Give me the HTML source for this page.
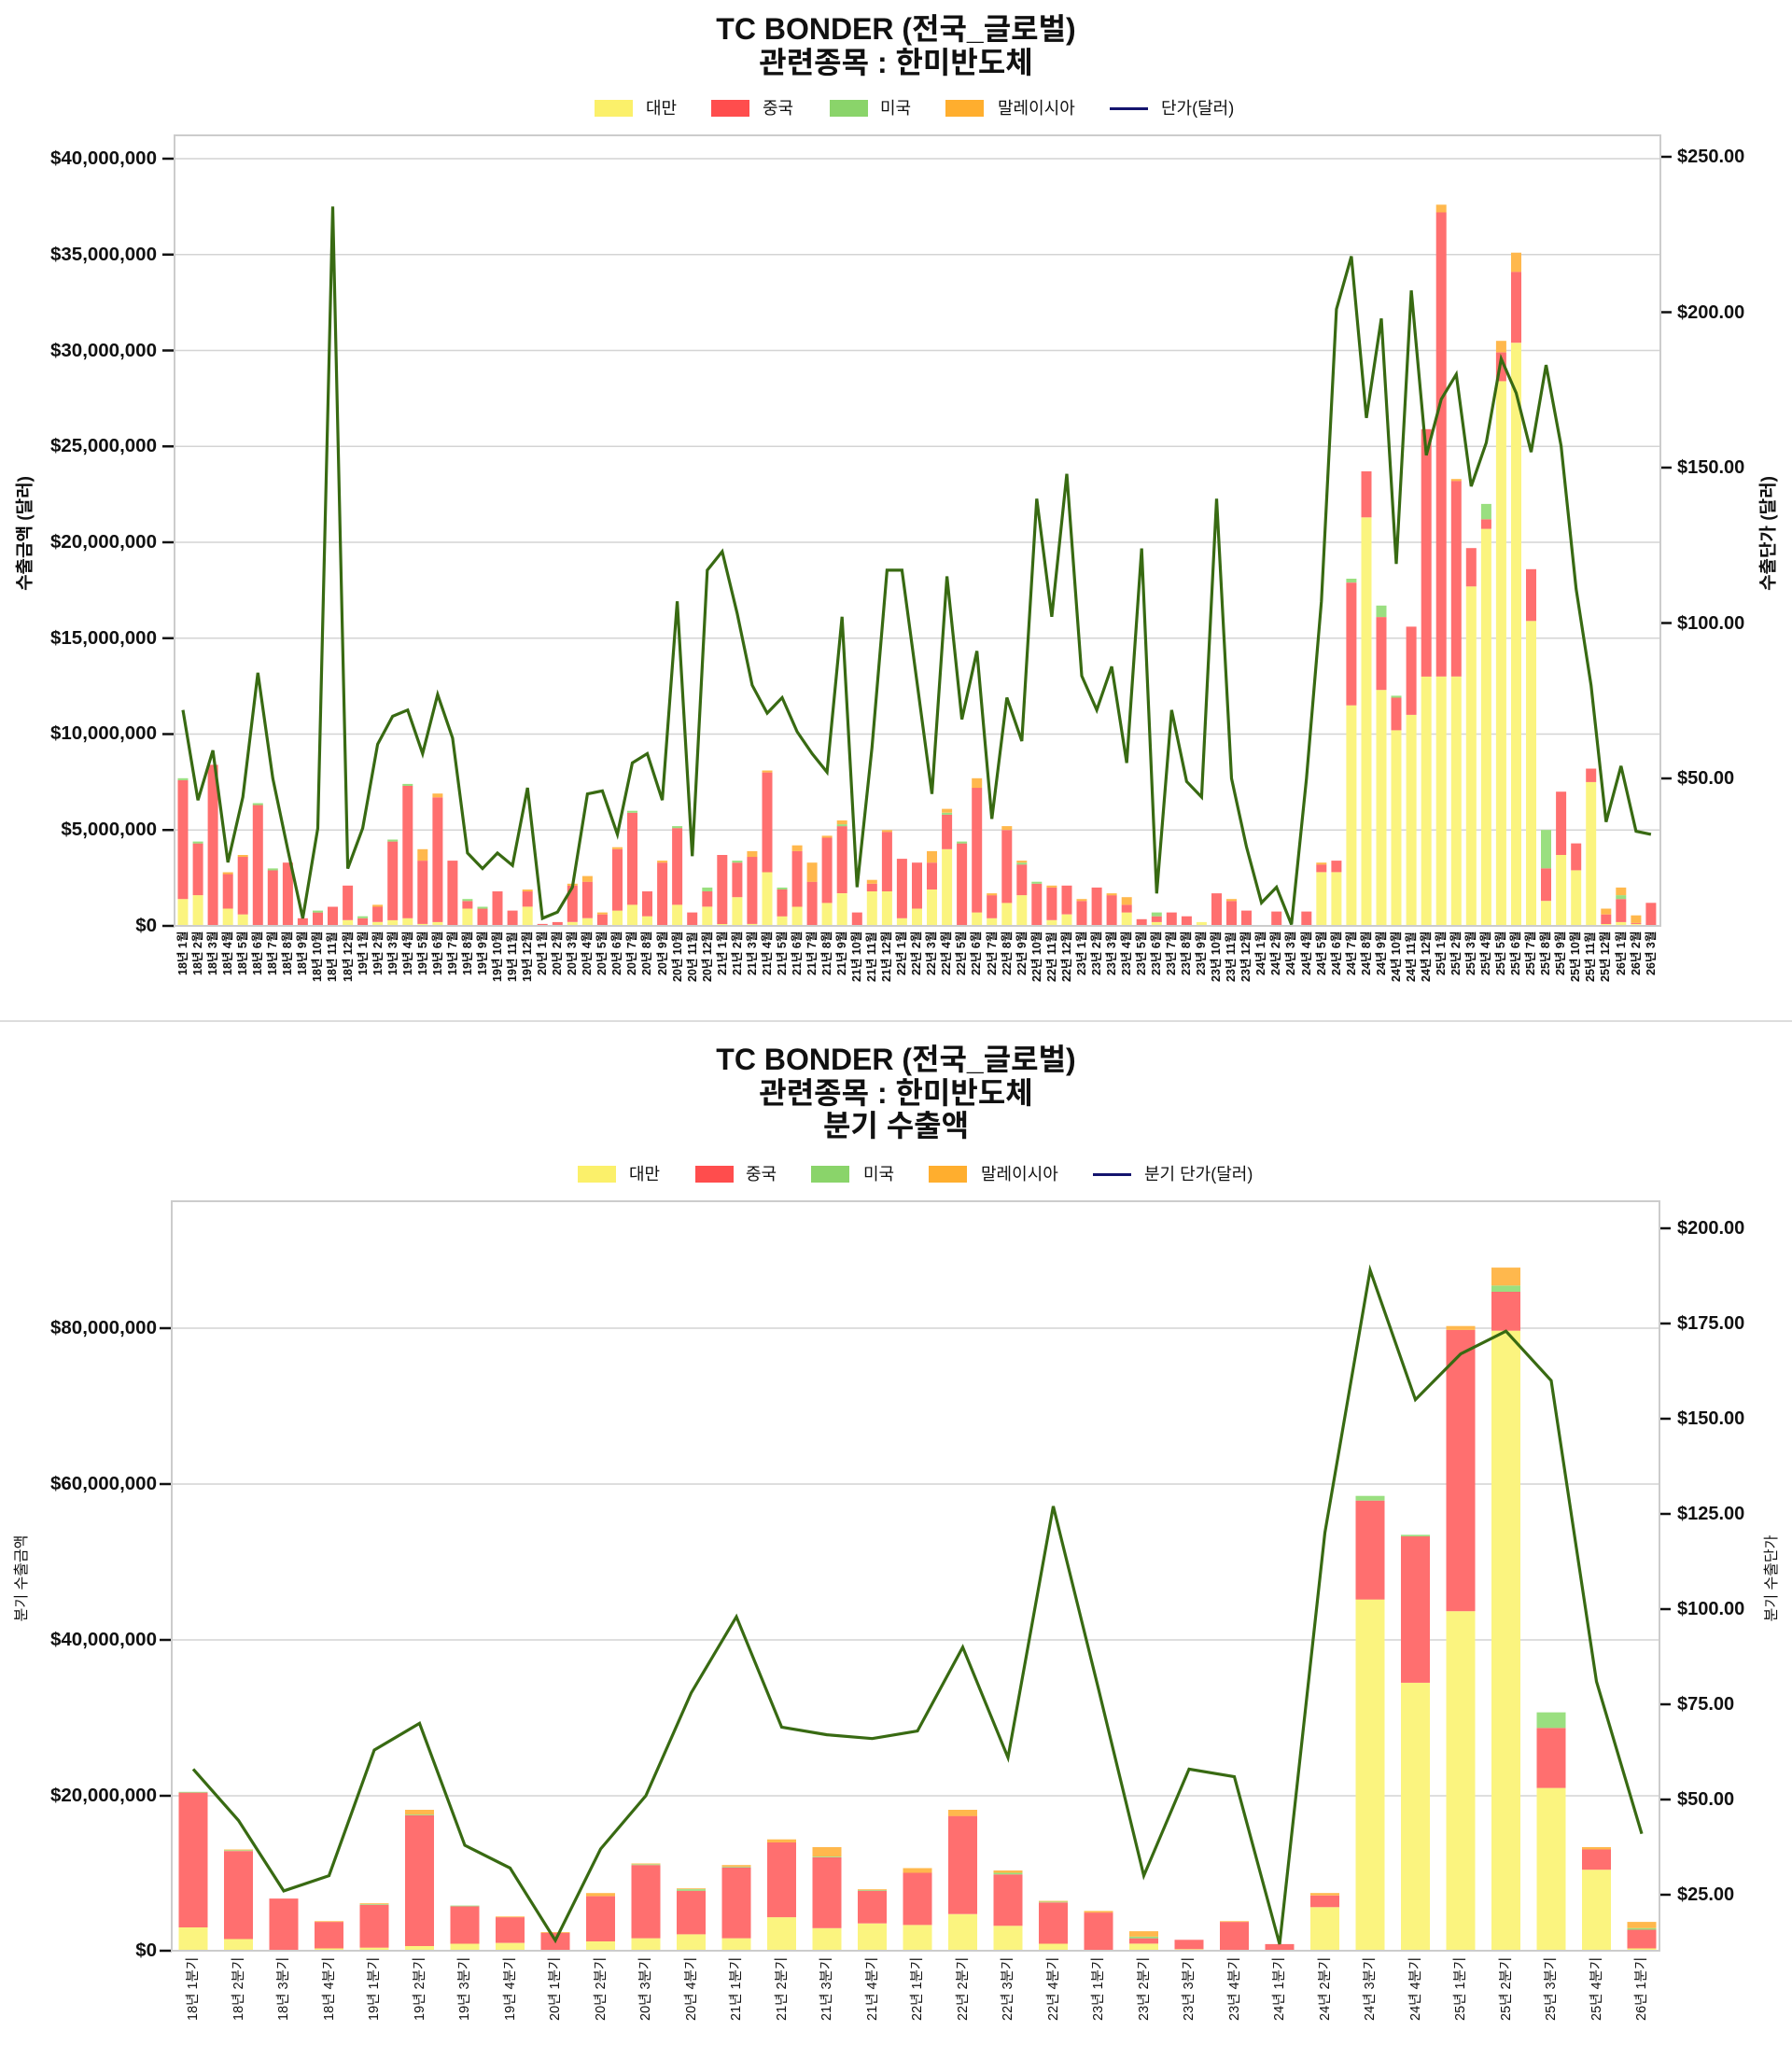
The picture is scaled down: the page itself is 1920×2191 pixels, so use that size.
<!DOCTYPE html>
<html><head><meta charset="utf-8">
<style>
html,body{margin:0;padding:0;background:#fff;}
body{width:1920px;height:2191px;position:relative;overflow:hidden;font-family:"Liberation Sans","Noto Sans CJK KR",sans-serif;color:#111;}
.t{position:absolute;left:0;width:1920px;text-align:center;font-weight:bold;font-size:32px;line-height:36px;}
.lg{position:absolute;font-size:18px;line-height:20px;}
.pt{position:absolute;height:18px;width:41px;}
.yl{position:absolute;font-weight:bold;font-size:20.5px;text-align:right;width:160px;line-height:20px;}
.yr{position:absolute;font-weight:bold;font-size:20px;line-height:20px;}
.xr{position:absolute;display:flex;}
.xr div{writing-mode:vertical-rl;text-orientation:sideways;transform:rotate(180deg);text-align:end;white-space:nowrap;}
.rl{position:absolute;transform:rotate(-90deg);transform-origin:center;white-space:nowrap;text-align:center;}
</style></head><body>
<svg id="s" width="1920" height="2191" style="position:absolute;left:0;top:0"></svg>

<div class="t" style="top:13px">TC BONDER (전국_글로벌)</div>
<div class="t" style="top:49px">관련종목 : 한미반도체</div>

<div class="pt" style="left:637px;top:107px;background:#fbf06a"></div><div class="lg" style="left:692px;top:106px">대만</div>
<div class="pt" style="left:762px;top:107px;background:#ff4d4d"></div><div class="lg" style="left:817px;top:106px">중국</div>
<div class="pt" style="left:889px;top:107px;background:#8ad46a"></div><div class="lg" style="left:943px;top:106px">미국</div>
<div class="pt" style="left:1013px;top:107px;background:#ffae2e"></div><div class="lg" style="left:1069px;top:106px">말레이시아</div>
<div class="pt" style="left:1189px;top:115px;height:3px;background:#14146e"></div><div class="lg" style="left:1244px;top:106px">단가(달러)</div>

<div class="yl" style="left:8px;top:160px">$40,000,000</div>
<div class="yl" style="left:8px;top:263px">$35,000,000</div>
<div class="yl" style="left:8px;top:366px">$30,000,000</div>
<div class="yl" style="left:8px;top:468px">$25,000,000</div>
<div class="yl" style="left:8px;top:571px">$20,000,000</div>
<div class="yl" style="left:8px;top:674px">$15,000,000</div>
<div class="yl" style="left:8px;top:776px">$10,000,000</div>
<div class="yl" style="left:8px;top:879px">$5,000,000</div>
<div class="yl" style="left:8px;top:982px">$0</div>

<div class="yr" style="left:1797px;top:158px">$250.00</div>
<div class="yr" style="left:1797px;top:325px">$200.00</div>
<div class="yr" style="left:1797px;top:491px">$150.00</div>
<div class="yr" style="left:1797px;top:658px">$100.00</div>
<div class="yr" style="left:1797px;top:824px">$50.00</div>

<div class="rl" style="left:-55px;top:558px;width:160px;font-size:19px;font-weight:bold">수출금액 (달러)</div>
<div class="rl" style="left:1813px;top:558px;width:160px;font-size:19px;font-weight:bold">수출단가 (달러)</div>

<div class="xr" style="left:188px;top:998px;height:66px;font-size:12.5px;font-weight:bold;line-height:16.05px">
<div>18년 1월</div><div>18년 2월</div><div>18년 3월</div><div>18년 4월</div><div>18년 5월</div><div>18년 6월</div><div>18년 7월</div><div>18년 8월</div><div>18년 9월</div><div>18년 10월</div><div>18년 11월</div><div>18년 12월</div>
<div>19년 1월</div><div>19년 2월</div><div>19년 3월</div><div>19년 4월</div><div>19년 5월</div><div>19년 6월</div><div>19년 7월</div><div>19년 8월</div><div>19년 9월</div><div>19년 10월</div><div>19년 11월</div><div>19년 12월</div>
<div>20년 1월</div><div>20년 2월</div><div>20년 3월</div><div>20년 4월</div><div>20년 5월</div><div>20년 6월</div><div>20년 7월</div><div>20년 8월</div><div>20년 9월</div><div>20년 10월</div><div>20년 11월</div><div>20년 12월</div>
<div>21년 1월</div><div>21년 2월</div><div>21년 3월</div><div>21년 4월</div><div>21년 5월</div><div>21년 6월</div><div>21년 7월</div><div>21년 8월</div><div>21년 9월</div><div>21년 10월</div><div>21년 11월</div><div>21년 12월</div>
<div>22년 1월</div><div>22년 2월</div><div>22년 3월</div><div>22년 4월</div><div>22년 5월</div><div>22년 6월</div><div>22년 7월</div><div>22년 8월</div><div>22년 9월</div><div>22년 10월</div><div>22년 11월</div><div>22년 12월</div>
<div>23년 1월</div><div>23년 2월</div><div>23년 3월</div><div>23년 4월</div><div>23년 5월</div><div>23년 6월</div><div>23년 7월</div><div>23년 8월</div><div>23년 9월</div><div>23년 10월</div><div>23년 11월</div><div>23년 12월</div>
<div>24년 1월</div><div>24년 2월</div><div>24년 3월</div><div>24년 4월</div><div>24년 5월</div><div>24년 6월</div><div>24년 7월</div><div>24년 8월</div><div>24년 9월</div><div>24년 10월</div><div>24년 11월</div><div>24년 12월</div>
<div>25년 1월</div><div>25년 2월</div><div>25년 3월</div><div>25년 4월</div><div>25년 5월</div><div>25년 6월</div><div>25년 7월</div><div>25년 8월</div><div>25년 9월</div><div>25년 10월</div><div>25년 11월</div><div>25년 12월</div>
<div>26년 1월</div><div>26년 2월</div><div>26년 3월</div>
</div>

<div class="t" style="top:1117px">TC BONDER (전국_글로벌)</div>
<div class="t" style="top:1153px">관련종목 : 한미반도체</div>
<div class="t" style="top:1188px">분기 수출액</div>

<div class="pt" style="left:619px;top:1249px;background:#fbf06a"></div><div class="lg" style="left:674px;top:1248px">대만</div>
<div class="pt" style="left:745px;top:1249px;background:#ff4d4d"></div><div class="lg" style="left:799px;top:1248px">중국</div>
<div class="pt" style="left:869px;top:1249px;background:#8ad46a"></div><div class="lg" style="left:925px;top:1248px">미국</div>
<div class="pt" style="left:995px;top:1249px;background:#ffae2e"></div><div class="lg" style="left:1051px;top:1248px">말레이시아</div>
<div class="pt" style="left:1171px;top:1257px;height:3px;background:#14146e"></div><div class="lg" style="left:1226px;top:1248px">분기 단가(달러)</div>

<div class="yl" style="left:8px;top:1413px">$80,000,000</div>
<div class="yl" style="left:8px;top:1580px">$60,000,000</div>
<div class="yl" style="left:8px;top:1747px">$40,000,000</div>
<div class="yl" style="left:8px;top:1914px">$20,000,000</div>
<div class="yl" style="left:8px;top:2080px">$0</div>

<div class="yr" style="left:1797px;top:1306px">$200.00</div>
<div class="yr" style="left:1797px;top:1408px">$175.00</div>
<div class="yr" style="left:1797px;top:1510px">$150.00</div>
<div class="yr" style="left:1797px;top:1612px">$125.00</div>
<div class="yr" style="left:1797px;top:1714px">$100.00</div>
<div class="yr" style="left:1797px;top:1816px">$75.00</div>
<div class="yr" style="left:1797px;top:1918px">$50.00</div>
<div class="yr" style="left:1797px;top:2020px">$25.00</div>

<div class="rl" style="left:-39px;top:1679px;width:120px;font-size:16px">분기 수출금액</div>
<div class="rl" style="left:1836px;top:1679px;width:120px;font-size:16px">분기 수출단가</div>

<div class="xr" style="left:183px;top:2097px;height:80px;font-size:14.5px;line-height:48.5px">
<div>18년 1분기</div><div>18년 2분기</div><div>18년 3분기</div><div>18년 4분기</div>
<div>19년 1분기</div><div>19년 2분기</div><div>19년 3분기</div><div>19년 4분기</div>
<div>20년 1분기</div><div>20년 2분기</div><div>20년 3분기</div><div>20년 4분기</div>
<div>21년 1분기</div><div>21년 2분기</div><div>21년 3분기</div><div>21년 4분기</div>
<div>22년 1분기</div><div>22년 2분기</div><div>22년 3분기</div><div>22년 4분기</div>
<div>23년 1분기</div><div>23년 2분기</div><div>23년 3분기</div><div>23년 4분기</div>
<div>24년 1분기</div><div>24년 2분기</div><div>24년 3분기</div><div>24년 4분기</div>
<div>25년 1분기</div><div>25년 2분기</div><div>25년 3분기</div><div>25년 4분기</div>
<div>26년 1분기</div>
</div>

<script>
var M=[[7.7,1.4,.1,0,72],[4.4,1.6,.1,0,43],[8.4,0,0,0,59],[2.8,.9,0,.1,23],[3.7,.6,0,.1,44],[6.4,0,.1,0,84],[3,0,.1,0,50],[3.3,0,0,0,27],[.4,0,0,0,5],[.8,0,.1,0,34],[1,0,0,0,234],[2.1,.3,0,0,21],
[.5,0,.1,0,34],[1.1,.2,0,.1,61],[4.5,.3,.1,0,70],[7.4,.4,.1,0,72],[4,.1,0,.6,58],[6.9,.2,0,.2,77],[3.4,0,0,0,63],[1.4,.9,.1,0,26],[1,0,.1,0,21],[1.8,0,0,0,26],[.8,0,0,0,22],[1.9,1,0,.1,47],
[.1,0,0,0,5],[.2,0,0,0,7],[2.2,.2,0,.1,15],[2.6,.4,0,.3,45],[.7,0,0,.1,46],[4.1,.8,0,.1,32],[6,1.1,.1,0,55],[1.8,.5,0,0,58],[3.4,0,0,.1,43],[5.2,1.1,.1,0,107],[.7,0,0,0,25],[2,1,.2,0,117],
[3.7,.1,0,0,123],[3.4,1.5,.1,0,103],[3.9,.1,0,.3,80],[8.1,2.8,0,.1,71],[2,.5,.1,0,76],[4.2,1,0,.3,65],[3.3,0,0,1,58],[4.7,1.2,0,.1,52],[5.5,1.7,.1,.2,102],[.7,0,0,0,15],[2.4,1.8,0,.2,60],[5,1.8,0,.1,117],
[3.5,.4,0,0,117],[3.3,.9,0,0,81],[3.9,1.9,0,.6,45],[6.1,4,.1,.2,115],[4.4,0,.1,0,69],[7.7,.7,0,.5,91],[1.7,.4,0,.1,37],[5.2,1.2,0,.2,76],[3.4,1.6,.1,.1,62],[2.3,0,.1,0,140],[2.1,.3,0,.1,102],[2.1,.6,0,0,148],
[1.4,0,0,.1,83],[2,0,0,0,72],[1.7,0,0,.1,86],[1.5,.7,0,.4,55],[.35,0,0,0,124],[.7,.2,.2,0,13],[.7,0,0,0,72],[.5,0,0,0,49],[.2,.2,0,0,44],[1.7,0,0,0,140],[1.4,0,0,.1,50],[.8,0,0,0,28],
[.05,0,0,0,10],[.75,0,0,0,15],[.05,0,0,0,3],[.75,0,0,0,50],[3.3,2.8,0,.1,107],[3.4,2.8,0,0,201],[18.1,11.5,.2,0,218],[23.7,21.3,0,0,166],[16.7,12.3,.6,0,198],[12,10.2,.1,0,119],[15.6,11,0,0,207],[25.9,13,0,0,154],
[37.6,13,0,.4,172],[23.3,13,0,.1,180],[19.7,17.7,0,0,144],[22,20.7,.8,0,158],[30.5,28.4,0,.6,185],[35.1,30.4,0,1,174],[18.6,15.9,0,0,155],[5,1.3,2,0,183],[7,3.7,0,0,157],[4.3,2.9,0,0,111],[8.2,7.5,0,0,80],[.9,.1,0,.3,36],
[2,.2,.2,.4,54],[.55,.1,0,.4,33],[1.2,0,0,0,32]];
var Q=[[20.4,3,.1,0,58],[13,1.5,.1,.1,44.5],[6.7,0,0,0,26],[3.8,.3,0,.1,30],[6.1,.4,.1,.1,63],[18.1,.6,.1,.6,70],[5.8,.9,.1,0,38],[4.4,1,0,.1,32],[2.4,.1,0,.1,13],[7.4,1.2,0,.4,37],[11.2,1.6,.1,.1,51],[8,2.1,.2,.1,78],
[11,1.6,.1,.2,98],[14.3,4.3,0,.4,69],[13.3,2.9,.1,1.2,67],[7.9,3.5,.1,.1,66],[10.6,3.3,0,.6,68],[18.1,4.7,0,.8,90],[10.3,3.2,.2,.3,61],[6.4,.9,.1,.1,127],[5.1,0,0,.2,79],[2.5,.9,.2,.7,30],[1.4,.2,0,0,58],[3.8,0,0,.1,56],
[.85,0,0,0,12],[7.4,5.6,0,.3,120],[58.4,45.1,.6,0,189],[53.4,34.4,.2,0,155],[80.2,43.6,0,.5,167],[87.7,79.6,.8,2.3,173],[30.6,20.9,2,0,160],[13.3,10.4,0,.3,81],[3.7,.3,.2,.8,41]];
var s='';
function r(x,y,w,h,c){if(h>0)s+='<rect x="'+x.toFixed(1)+'" y="'+y.toFixed(1)+'" width="'+w+'" height="'+h.toFixed(1)+'" fill="'+c+'"/>';}
function ln(x1,y1,x2,y2,c,w){s+='<line x1="'+x1+'" y1="'+y1+'" x2="'+x2+'" y2="'+y2+'" stroke="'+c+'" stroke-width="'+(w||1.5)+'"/>';}
ln(0,1094,1920,1094,'#dddddd',2);
function chart(D,L,R,T,B,y0,ky,ly0,kl,cx0,slot,bw,lt,rt){
  for(var i=0;i<lt.length;i++){ln(L,lt[i],R,lt[i],'#d4d4d4',1.5);ln(L-13,lt[i],L,lt[i],'#111',2.5);}
  for(var i=0;i<rt.length;i++){ln(R,rt[i],R+12,rt[i],'#111',2.5);}
  var pts=[];
  for(var i=0;i<D.length;i++){
    var d=D[i],cx=cx0+i*slot,x=cx-bw/2,yy=d[1],g=d[2],o=d[3],rd=Math.max(0,d[0]-yy-g-o);
    var b=y0;
    r(x,b-yy*ky,bw,yy*ky,'#fbf47f');b-=yy*ky;
    r(x,b-rd*ky,bw,rd*ky,'#ff6f6f');b-=rd*ky;
    r(x,b-g*ky,bw,g*ky,'#9adf80');b-=g*ky;
    r(x,b-o*ky,bw,o*ky,'#ffb84d');
    pts.push(cx.toFixed(1)+','+(ly0-d[4]*kl).toFixed(1));
  }
  s+='<polyline points="'+pts.join(' ')+'" fill="none" stroke="#386a12" stroke-width="3.2" stroke-linejoin="miter"/>';
  s+='<rect x="'+L+'" y="'+T+'" width="'+(R-L)+'" height="'+(B-T)+'" fill="none" stroke="#cccccc" stroke-width="2"/>';
}
chart(M,187,1779,145,992,992,20.55,1000.5,3.33,196,16.05,11,
 [170,272.75,375.5,478.25,581,683.75,786.5,889.25,992],[168,334.5,501,667.5,834]);
chart(Q,184,1778,1287,2090,2090,8.345,2132,4.08,207,48.5,31,
 [1423,1590,1757,1924,2090],[1316,1418,1520,1622,1724,1826,1928,2030]);
document.getElementById('s').innerHTML=s;
</script>
</body></html>
